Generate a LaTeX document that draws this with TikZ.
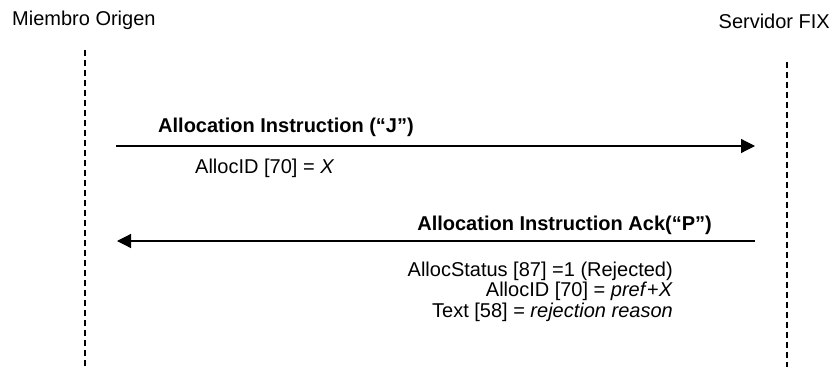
\documentclass[tikz,border=0pt]{standalone}
\usepackage{fontspec}
\setmainfont{Liberation Sans}
\usetikzlibrary{arrows.meta}
\begin{document}
\begin{tikzpicture}[x=1pt,y=-1pt,
  lbl/.style={inner sep=0pt, font=\fontsize{20}{24}\selectfont},
  lifeline/.style={line width=1.2pt, dash pattern=on 6pt off 4pt},
  msg/.style={line width=1.2pt, -{Triangle[length=14pt,width=14pt]}}]
\useasboundingbox (0,0) rectangle (833,367);
% actors
\node[lbl, anchor=base west] (orig) at (12,25) {Miembro Origen};
\node[lbl, anchor=base east] (serv) at (830,28) {Servidor FIX};
% lifelines
\coordinate (lt) at (85,50);
\coordinate (lb) at (85,367);
\coordinate (rt) at (787,62);
\coordinate (rb) at (787,367);
\draw[lifeline] (lt) -- (lb);
\draw[lifeline] (rt) -- (rb);
% message 1
\coordinate (m1s) at (116,146);
\coordinate (m1e) at (755,146);
\draw[msg] (m1s) -- (m1e);
\node[lbl, anchor=base west, font=\fontsize{20}{24}\selectfont\bfseries] (m1l) at (158,132) {Allocation Instruction (“J”)};
\node[lbl, anchor=base west] (m1a) at (195,173) {AllocID [70] = \textit{X}};
% message 2
\coordinate (m2s) at (755,241);
\coordinate (m2e) at (117,241);
\draw[msg] (m2s) -- (m2e);
\node[lbl, anchor=base east, font=\fontsize{20}{24}\selectfont\bfseries] (m2l) at (712,230) {Allocation Instruction Ack(“P”)};
\node[lbl, anchor=base east] (m2a) at (673,276) {AllocStatus [87] =1 (Rejected)};
\node[lbl, anchor=base east] (m2b) at (673,296) {AllocID [70] = \textit{pref}+\textit{X}};
\node[lbl, anchor=base east] (m2c) at (673,317) {Text [58] = \textit{rejection reason}};
\end{tikzpicture}
\end{document}
